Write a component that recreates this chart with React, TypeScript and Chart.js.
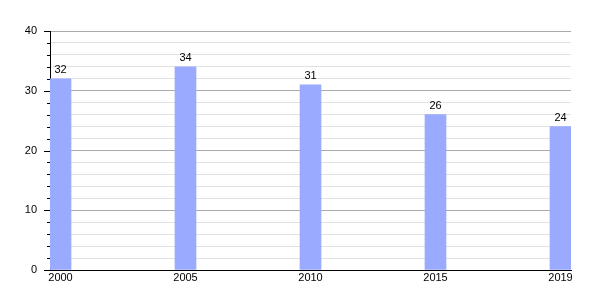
import React, { useEffect, useRef } from "react";
import { Chart, registerables } from "chart.js";

Chart.register(...registerables);

const categories = ["2000", "2005", "2010", "2015", "2019"];
const values = [32, 34, 31, 26, 24];
const yTicks = [0, 10, 20, 30, 40];

const FONT = "'Liberation Sans', Arial, sans-serif";

const yTickMarks = {
  id: "yTickMarks",
  afterDraw(chart: any) {
    const y = chart.scales.y;
    const ctx = chart.ctx;
    const left = chart.chartArea.left;
    ctx.save();
    ctx.strokeStyle = "#000";
    ctx.lineWidth = 1;
    for (let v = 0; v <= 40; v += 2) {
      const py = Math.round(y.getPixelForValue(v)) + 0.5;
      const len = v % 10 === 0 ? 6 : 3;
      ctx.beginPath();
      ctx.moveTo(left - len, py);
      ctx.lineTo(left, py);
      ctx.stroke();
    }
    ctx.restore();
  },
};

const valueLabels = {
  id: "valueLabels",
  afterDatasetsDraw(chart: any) {
    const ctx = chart.ctx;
    const meta = chart.getDatasetMeta(0);
    ctx.save();
    ctx.fillStyle = "#000";
    ctx.font = `11px ${FONT}`;
    ctx.textAlign = "center";
    ctx.textBaseline = "bottom";
    meta.data.forEach((el: any, i: number) => {
      ctx.fillText(String(values[i]), el.x, el.y - 3);
    });
    ctx.restore();
  },
};

export default function App() {
  const ref = useRef<HTMLCanvasElement>(null);
  useEffect(() => {
    const chart = new Chart(ref.current!, {
      type: "bar",
      data: {
        datasets: [
          {
            data: values.map((v, i) => ({ x: i, y: v })),
            backgroundColor: "#99aaff",
            barThickness: 21,
          },
        ],
      },
      options: {
        animation: false,
        responsive: false,
        layout: { padding: { left: 0, right: 29, top: 31, bottom: 0 } },
        plugins: { legend: { display: false }, tooltip: { enabled: false } },
        scales: {
          x: {
            type: "linear",
            offset: false,
            min: -0.084,
            max: 4.084,
            afterBuildTicks(scale: any) {
              scale.ticks = categories.map((_, i) => ({ value: i }));
            },
            afterFit(scale: any) {
              scale.height = 30;
            },
            grid: { display: false, offset: false, drawTicks: false, tickLength: 0 },
            border: { display: true, color: "#000", width: 1 },
            ticks: {
              autoSkip: false,
              maxRotation: 0,
              padding: 1,
              color: "#000",
              font: { family: FONT, size: 11 },
              callback: (v: any) => categories[v] ?? "",
            },
          },
          y: {
            min: 0,
            max: 40,
            afterBuildTicks(scale: any) {
              const t = [];
              for (let v = 0; v <= 40; v += 2) t.push({ value: v });
              scale.ticks = t;
            },
            afterFit(scale: any) {
              scale.width = 50;
            },
            grid: {
              drawTicks: false,
              color: (c: any) => (c.tick && c.tick.value % 10 === 0 ? "#aaaaaa" : "#e2e2e2"),
            },
            border: { display: true, color: "#000", width: 1 },
            ticks: {
              autoSkip: false,
              padding: 13,
              color: "#000",
              font: { family: FONT, size: 11 },
              callback: (v: any) => (yTicks.includes(v) ? String(v) : ""),
            },
          },
        },
      },
      plugins: [yTickMarks, valueLabels],
    });
    return () => chart.destroy();
  }, []);
  return (
    <div style={{ position: "fixed", left: 0, top: 0, width: 600, height: 300, background: "#fff" }}>
      <canvas ref={ref} width={600} height={300} />
    </div>
  );
}
